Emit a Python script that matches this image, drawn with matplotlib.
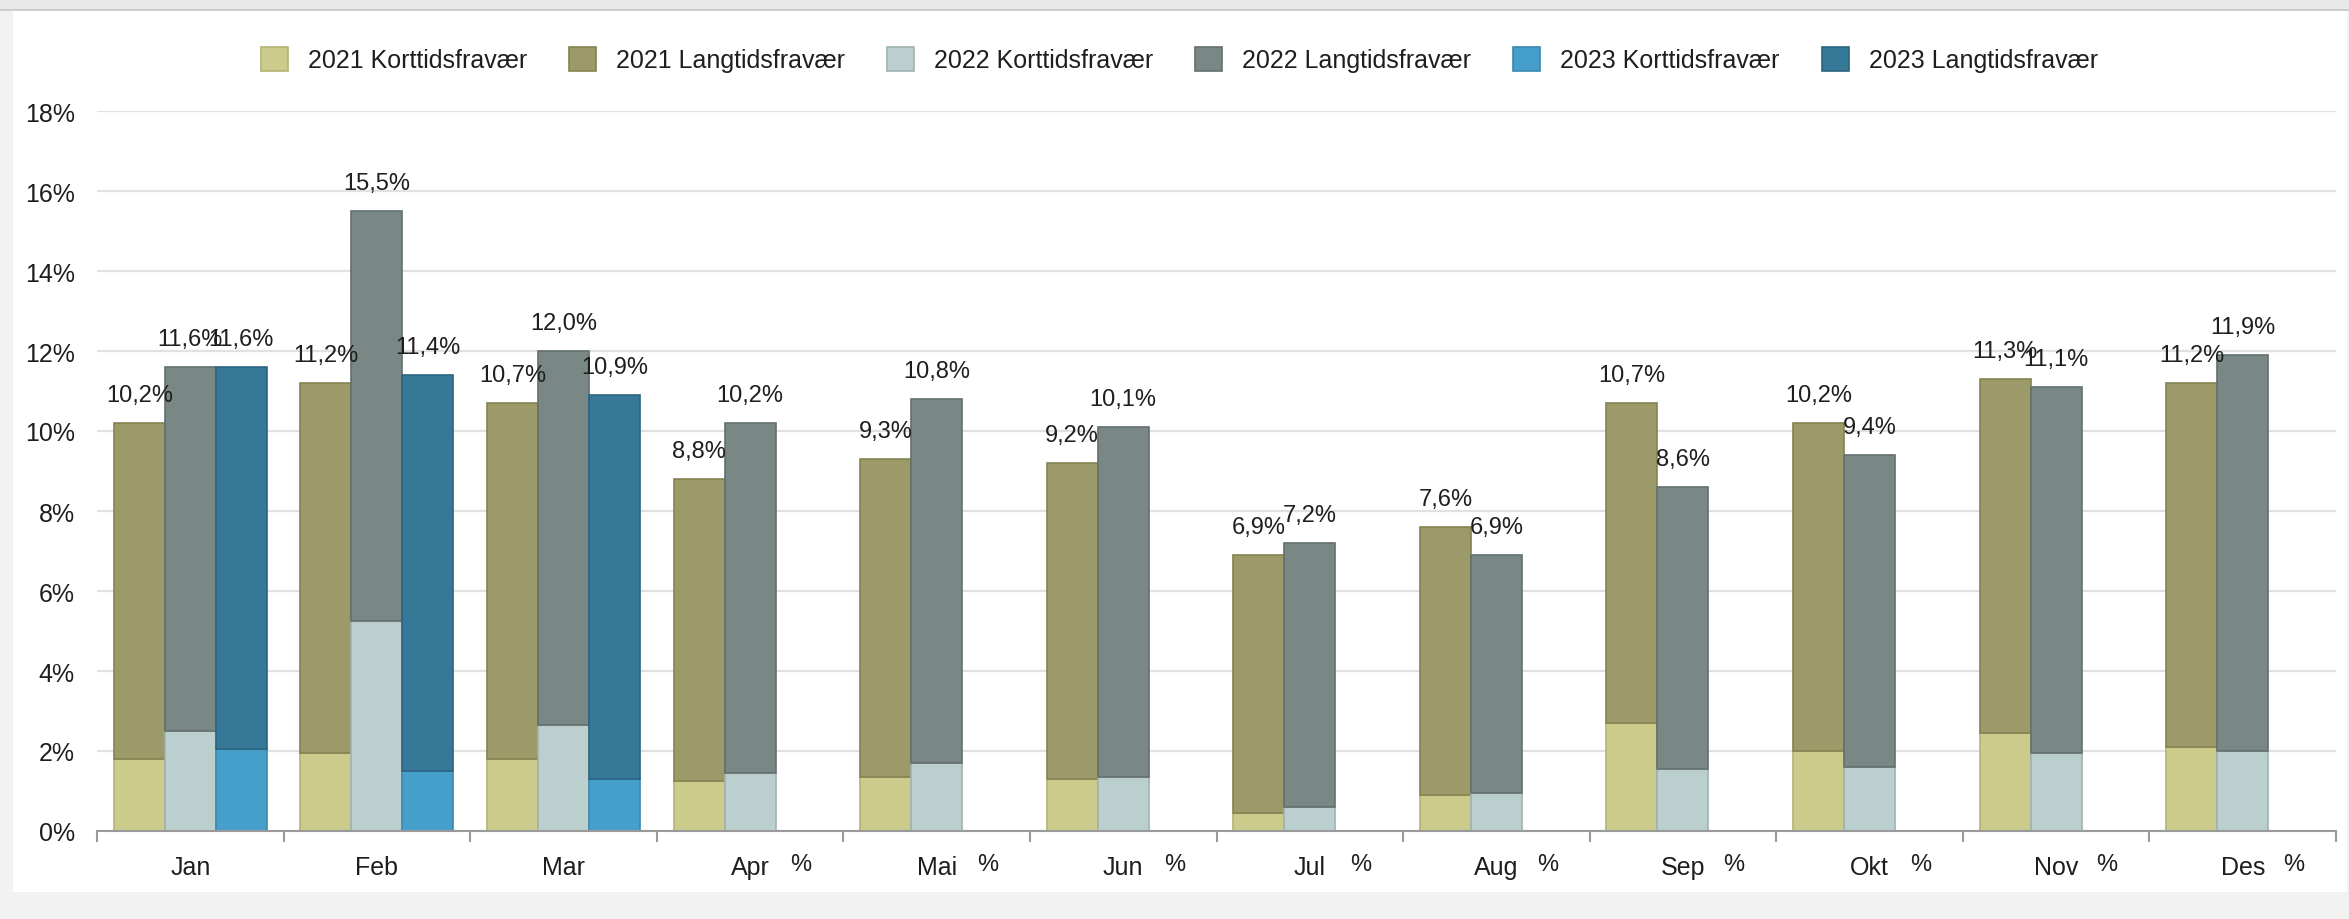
import numpy as np
import matplotlib
matplotlib.use('Agg')
import matplotlib.pyplot as plt
from matplotlib.patches import Rectangle

plt.rcParams['font.family'] = ['Liberation Sans', 'DejaVu Sans']

# data (percent)
months = ['Jan', 'Feb', 'Mar', 'Apr', 'Mai', 'Jun', 'Jul', 'Aug', 'Sep', 'Okt', 'Nov', 'Des']
kort_2021 = [1.8, 1.95, 1.8, 1.25, 1.35, 1.3, 0.45, 0.9, 2.7, 2.0, 2.45, 2.1]
lang_2021 = [8.4, 9.25, 8.9, 7.55, 7.95, 7.9, 6.45, 6.7, 8.0, 8.2, 8.85, 9.1]
kort_2022 = [2.5, 5.25, 2.65, 1.45, 1.7, 1.35, 0.6, 0.95, 1.55, 1.6, 1.95, 2.0]
lang_2022 = [9.1, 10.25, 9.35, 8.75, 9.1, 8.75, 6.6, 5.95, 7.05, 7.8, 9.15, 9.9]
kort_2023 = [2.05, 1.5, 1.3] + [np.nan] * 9
lang_2023 = [9.55, 9.9, 9.6] + [np.nan] * 9
years = ['2021', '2022', '2023']
yticks = [0, 2, 4, 6, 8, 10, 12, 14, 16, 18]
ytick_labels = ['0%', '2%', '4%', '6%', '8%', '10%', '12%', '14%', '16%', '18%']

# colours: (korttid, langtid) per year
kort_colors = ['#cbcb8c', '#bbcfcf', '#469fca']
lang_colors = ['#9c9a68', '#798785', '#367898']
kort_edges = ['#b4b376', '#9fb3b3', '#3a89ae']
lang_edges = ['#85834f', '#64706f', '#2c6480']
textcolor = '#1e1e1e'

fig = plt.figure(figsize=(23.49, 9.2), dpi=100)
fig.set_facecolor('#f2f2f2')
# white panel and grey top band
fig.patches.append(Rectangle((13/2349, 27/920), 2334/2349, 881/920, transform=fig.transFigure,
                             facecolor='white', edgecolor='none', zorder=-10))
fig.patches.append(Rectangle((0, 910/920), 1, 10/920, transform=fig.transFigure,
                             facecolor='#e8e8e8', edgecolor='none', zorder=-10))
fig.patches.append(Rectangle((0, 908/920), 1, 2/920, transform=fig.transFigure,
                             facecolor='#cdcdcd', edgecolor='none', zorder=-10))

ax = fig.add_axes([97/2349, 88/920, 2239/2349, 720/920])
ax.set_facecolor('none')

x = np.arange(len(months))
width = 0.2733
kort_all = [kort_2021, kort_2022, kort_2023]
lang_all = [lang_2021, lang_2022, lang_2023]

handles = []
for i in range(3):
    k = np.array(kort_all[i], dtype=float)
    l = np.array(lang_all[i], dtype=float)
    xpos = x + (i - 1) * width
    bk = ax.bar(xpos, k, width, color=kort_colors[i], edgecolor=kort_edges[i], linewidth=1.2,
                label=years[i] + ' Korttidsfravær')
    bl = ax.bar(xpos, l, width, bottom=k, color=lang_colors[i], edgecolor=lang_edges[i], linewidth=1.2,
                label=years[i] + ' Langtidsfravær')
    handles += [bk, bl]
    total = k + l
    for xp, t in zip(xpos, total):
        if np.isnan(t):
            ax.annotate('%', (xp, 0), xytext=(0, -24), textcoords='offset points',
                        ha='center', va='center', fontsize=17, color=textcolor)
        else:
            s = ('%.1f' % t).replace('.', ',') + '%'
            ax.annotate(s, (xp, t), xytext=(0, 20), textcoords='offset points',
                        ha='center', va='center', fontsize=17, color=textcolor)

ax.set_xlim(-0.5, len(months) - 0.5)
ax.set_ylim(0, 18)
ax.set_yticks(yticks)
ax.set_yticklabels(ytick_labels)
ax.tick_params(axis='y', length=0, pad=16, labelsize=18, labelcolor=textcolor)
ax.yaxis.grid(True, color='#e1e1e1', linewidth=1.6)
ax.set_axisbelow(True)

# category boundaries as major ticks, names at centres
ax.set_xticks(np.arange(len(months) + 1) - 0.5)
ax.set_xticklabels([])
ax.set_xticks(x, minor=True)
ax.set_xticklabels(months, minor=True)
ax.tick_params(axis='x', which='major', length=8, width=1.5, color='#9a9a9a')
ax.tick_params(axis='x', which='minor', length=0, pad=17, labelsize=18, labelcolor=textcolor)

for side in ['top', 'right', 'left']:
    ax.spines[side].set_visible(False)
ax.spines['bottom'].set_color('#9a9a9a')
ax.spines['bottom'].set_linewidth(1.5)

fig.legend(handles=handles, loc='center', bbox_to_anchor=(0.502, 0.934), ncol=6, frameon=False,
           fontsize=18, handlelength=1.08, handleheight=1.08, handletextpad=0.8,
           columnspacing=1.68, labelcolor=textcolor)

plt.savefig('out.png', dpi=100)
